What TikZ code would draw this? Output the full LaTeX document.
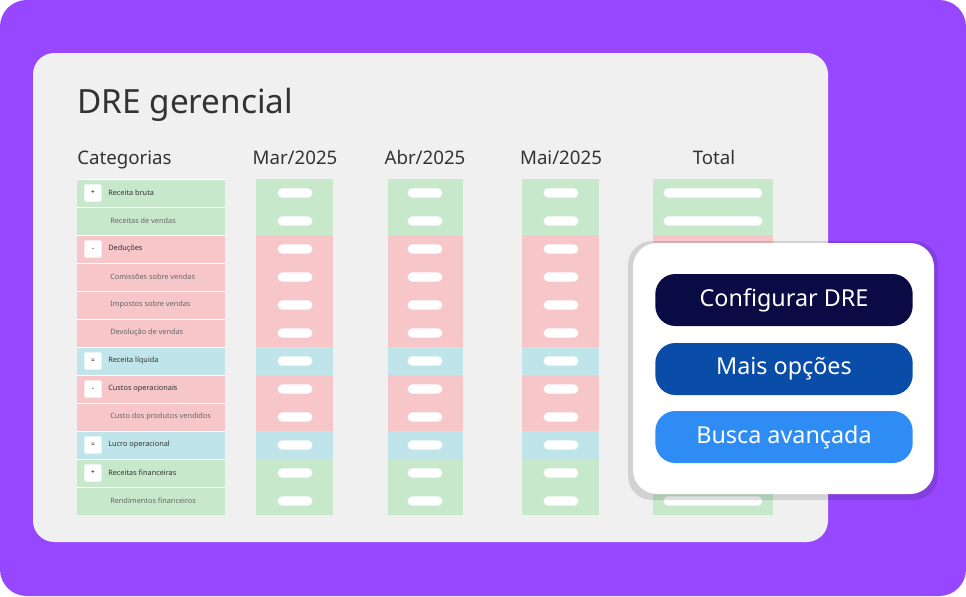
\documentclass[tikz,border=0pt]{standalone}
\usepackage{fontspec}
\setmainfont{Noto Sans}
\usetikzlibrary{positioning}
\definecolor{bgpurple}{HTML}{9747FF}
\definecolor{cardgray}{HTML}{F0F0F0}
\definecolor{rowG}{HTML}{C8E8CC}
\definecolor{rowR}{HTML}{F6C6C9}
\definecolor{rowC}{HTML}{BFE5EA}
\definecolor{btnA}{HTML}{0A0A45}
\definecolor{btnB}{HTML}{0A4DA8}
\definecolor{btnC}{HTML}{2F8CF5}
\definecolor{txt}{HTML}{333333}
\tikzset{
header/.style={anchor=base,font=\fontsize{14}{16}\selectfont,text=txt},
pill/.style={fill=white,rounded corners=3.5pt,minimum height=7pt,inner sep=0pt},
signbox/.style={fill=white,rounded corners=1pt,minimum width=13pt,minimum height=13pt,inner sep=0pt,font=\fontsize{5}{6}\selectfont\bfseries},
catbold/.style={anchor=west,font=\fontsize{5.5}{6}\selectfont\bfseries,text=txt,inner sep=0pt},
catsub/.style={anchor=west,font=\fontsize{5.5}{6}\selectfont,text=black!60,inner sep=0pt},
button/.style={rounded corners=15pt,minimum width=193pt,minimum height=39pt,text=white,font=\fontsize{17.5}{20}\selectfont}
}
\begin{document}
\begin{tikzpicture}[x=0.75pt,y=-0.75pt]
\useasboundingbox (0,0) rectangle (966,596);
\fill[bgpurple,rounded corners=20pt] (0,0) rectangle (966,596);
\fill[cardgray,rounded corners=16pt] (33,53) rectangle (828,542);
\node[anchor=base west,font=\fontsize{25}{28}\selectfont,text=txt,inner sep=0pt] (title) at (77,113) {DRE gerencial};
% column headers
\node[header,anchor=base west,inner sep=0pt] (hcat) at (77,164) {Categorias};
\node[header] (hmar) at (295,164) {Mar/2025};
\node[header] (habr) at (425,164) {Abr/2025};
\node[header] (hmai) at (561,164) {Mai/2025};
\node[header] (htot) at (714,164) {Total};
% rows
\foreach \c [count=\i from 0] in {rowG,rowG,rowR,rowR,rowR,rowR,rowC,rowR,rowR,rowC,rowG,rowG}{
  \pgfmathsetmacro\ya{179+28*\i}
  \pgfmathsetmacro\yb{179+28*(\i+1)}
  \pgfmathsetmacro\ym{179+28*\i+14}
  \fill[\c] (77,\ya) rectangle (225,\yb);
  \draw[white,line width=0.4pt] (77,\ya) -- (225,\ya);
  \fill[\c] (256,\ya) rectangle (333,\yb);
  \fill[\c] (388,\ya) rectangle (463,\yb);
  \fill[\c] (522,\ya) rectangle (599,\yb);
  \fill[\c] (653,\ya) rectangle (773,\yb);
  \node[pill,minimum width=26pt] at (295,\ym) {};
  \node[pill,minimum width=26pt] at (425,\ym) {};
  \node[pill,minimum width=26pt] at (561,\ym) {};
  \node[pill,minimum width=74pt] at (713,\ym) {};
}
% category labels
\foreach \s/\t [count=\i from 0] in {+/Receita bruta,/Receitas de vendas,-/Deduções,/Comissões sobre vendas,/Impostos sobre vendas,/Devolução de vendas,=/Receita líquida,-/Custos operacionais,/Custo dos produtos vendidos,=/Lucro operacional,+/Receitas financeiras,/Rendimentos financeiros}{
  \pgfmathsetmacro\ym{179+28*\i+14}
  \ifx\s\empty
    \node[catsub] (cat\i) at (110,\ym) {\t};
  \else
    \node[signbox] (sign\i) at (93,\ym) {\s};
    \node[catbold] (cat\i) at (108,\ym) {\t};
  \fi
}
% popup
\fill[black,opacity=0.12,rounded corners=18pt] (628,241) rectangle (938,500);
\fill[white,rounded corners=18pt] (633,243) rectangle (934,494);
\node[button,fill=btnA] (cfg) at (784,300) {Configurar DRE};
\node[button,fill=btnB] (mais) at (784,369) {Mais opções};
\node[button,fill=btnC] (busca) at (784,437) {Busca avançada};
\end{tikzpicture}
\end{document}
